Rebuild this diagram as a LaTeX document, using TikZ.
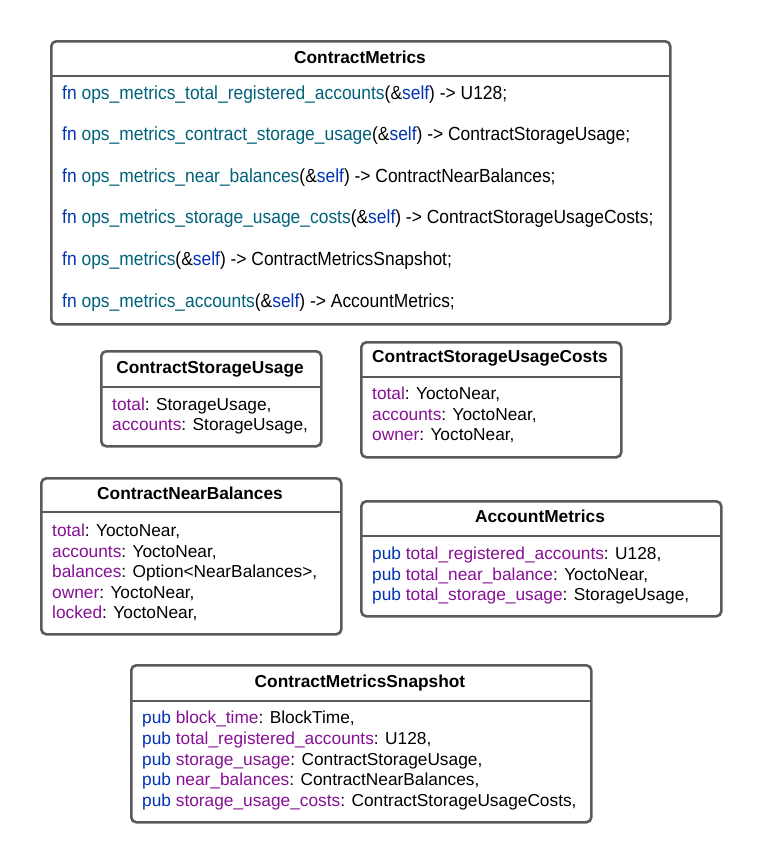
\documentclass[tikz,border=0pt]{standalone}
\usepackage{fontspec}
\setmainfont{Liberation Sans}
\newfontfamily\condfont[FakeStretch=0.917]{Liberation Sans}
\definecolor{kwblue}{HTML}{0033B3}
\definecolor{fnteal}{HTML}{00627A}
\definecolor{fldpurple}{HTML}{871094}
\definecolor{boxgray}{HTML}{5A5A5A}
\newcommand\kw[1]{\textcolor{kwblue}{#1}}
\newcommand\fnn[1]{\textcolor{fnteal}{#1}}
\newcommand\fld[1]{\textcolor{fldpurple}{#1}}
\tikzset{
  x=1pt, y=-1pt,
  umlbox/.style={draw=boxgray, line width=2.6pt, rounded corners=5pt, fill=white, inner sep=0pt, anchor=north west},
  sepline/.style={draw=boxgray, line width=2.6pt},
  title/.style={font=\fontsize{17.3}{20}\selectfont\bfseries, anchor=base, inner sep=0pt},
  field/.style={font=\fontsize{17.3}{20}\selectfont, anchor=base west, inner sep=0pt},
  method/.style={font=\fontsize{19}{22}\selectfont\condfont, anchor=base west, inner sep=0pt},
}
\begin{document}
\begin{tikzpicture}
\useasboundingbox (0,0) rectangle (760,862);

% ContractMetrics
\node[umlbox, minimum width=619pt, minimum height=283pt] (cm) at (50,40) {};
\draw[sepline] (50,76) -- (669,76);
\node[title] (cmt) at (360,63) {ContractMetrics};
\node[method] (cm1) at (62,99) {\kw{fn} \fnn{ops\_metrics\_total\_registered\_accounts}(\&\kw{self}) -> U128;};
\node[method] (cm2) at (62,140.5) {\kw{fn} \fnn{ops\_metrics\_contract\_storage\_usage}(\&\kw{self}) -> ContractStorageUsage;};
\node[method] (cm3) at (62,182) {\kw{fn} \fnn{ops\_metrics\_near\_balances}(\&\kw{self}) -> ContractNearBalances;};
\node[method] (cm4) at (62,223.5) {\kw{fn} \fnn{ops\_metrics\_storage\_usage\_costs}(\&\kw{self}) -> ContractStorageUsageCosts;};
\node[method] (cm5) at (62,265) {\kw{fn} \fnn{ops\_metrics}(\&\kw{self}) -> ContractMetricsSnapshot;};
\node[method] (cm6) at (62,307) {\kw{fn} \fnn{ops\_metrics\_accounts}(\&\kw{self}) -> AccountMetrics;};

% ContractStorageUsage
\node[umlbox, minimum width=220pt, minimum height=95pt] (csu) at (100,350) {};
\draw[sepline] (100,387) -- (320,387);
\node[title] (csut) at (210,373) {ContractStorageUsage};
\node[field] (csu1) at (112,410) {\fld{total}: StorageUsage,};
\node[field] (csu2) at (112,430.5) {\fld{accounts}: StorageUsage,};

% ContractStorageUsageCosts
\node[umlbox, minimum width=260pt, minimum height=115pt] (csc) at (360,341) {};
\draw[sepline] (360,377) -- (620,377);
\node[title] (csct) at (490,362) {ContractStorageUsageCosts};
\node[field] (csc1) at (372,399.5) {\fld{total}: YoctoNear,};
\node[field] (csc2) at (372,420) {\fld{accounts}: YoctoNear,};
\node[field] (csc3) at (372,440.5) {\fld{owner}: YoctoNear,};

% ContractNearBalances
\node[umlbox, minimum width=300pt, minimum height=156pt] (cnb) at (40,477) {};
\draw[sepline] (40,512) -- (340,512);
\node[title] (cnbt) at (190,499) {ContractNearBalances};
\node[field] (cnb1) at (52,536.5) {\fld{total}: YoctoNear,};
\node[field] (cnb2) at (52,557) {\fld{accounts}: YoctoNear,};
\node[field] (cnb3) at (52,577.5) {\fld{balances}: Option<NearBalances>,};
\node[field] (cnb4) at (52,598) {\fld{owner}: YoctoNear,};
\node[field] (cnb5) at (52,618.5) {\fld{locked}: YoctoNear,};

% AccountMetrics
\node[umlbox, minimum width=360pt, minimum height=115pt] (am) at (360,500) {};
\draw[sepline] (360,536) -- (720,536);
\node[title] (amt) at (540,522) {AccountMetrics};
\node[field] (am1) at (372,559.5) {\kw{pub} \fld{total\_registered\_accounts}: U128,};
\node[field] (am2) at (372,580) {\kw{pub} \fld{total\_near\_balance}: YoctoNear,};
\node[field] (am3) at (372,600.5) {\kw{pub} \fld{total\_storage\_usage}: StorageUsage,};

% ContractMetricsSnapshot
\node[umlbox, minimum width=460pt, minimum height=157pt] (cms) at (130,664) {};
\draw[sepline] (130,701) -- (590,701);
\node[title] (cmst) at (360,687) {ContractMetricsSnapshot};
\node[field] (cms1) at (142,723.5) {\kw{pub} \fld{block\_time}: BlockTime,};
\node[field] (cms2) at (142,744) {\kw{pub} \fld{total\_registered\_accounts}: U128,};
\node[field] (cms3) at (142,765) {\kw{pub} \fld{storage\_usage}: ContractStorageUsage,};
\node[field] (cms4) at (142,785.5) {\kw{pub} \fld{near\_balances}: ContractNearBalances,};
\node[field] (cms5) at (142,806) {\kw{pub} \fld{storage\_usage\_costs}: ContractStorageUsageCosts,};
\end{tikzpicture}
\end{document}
